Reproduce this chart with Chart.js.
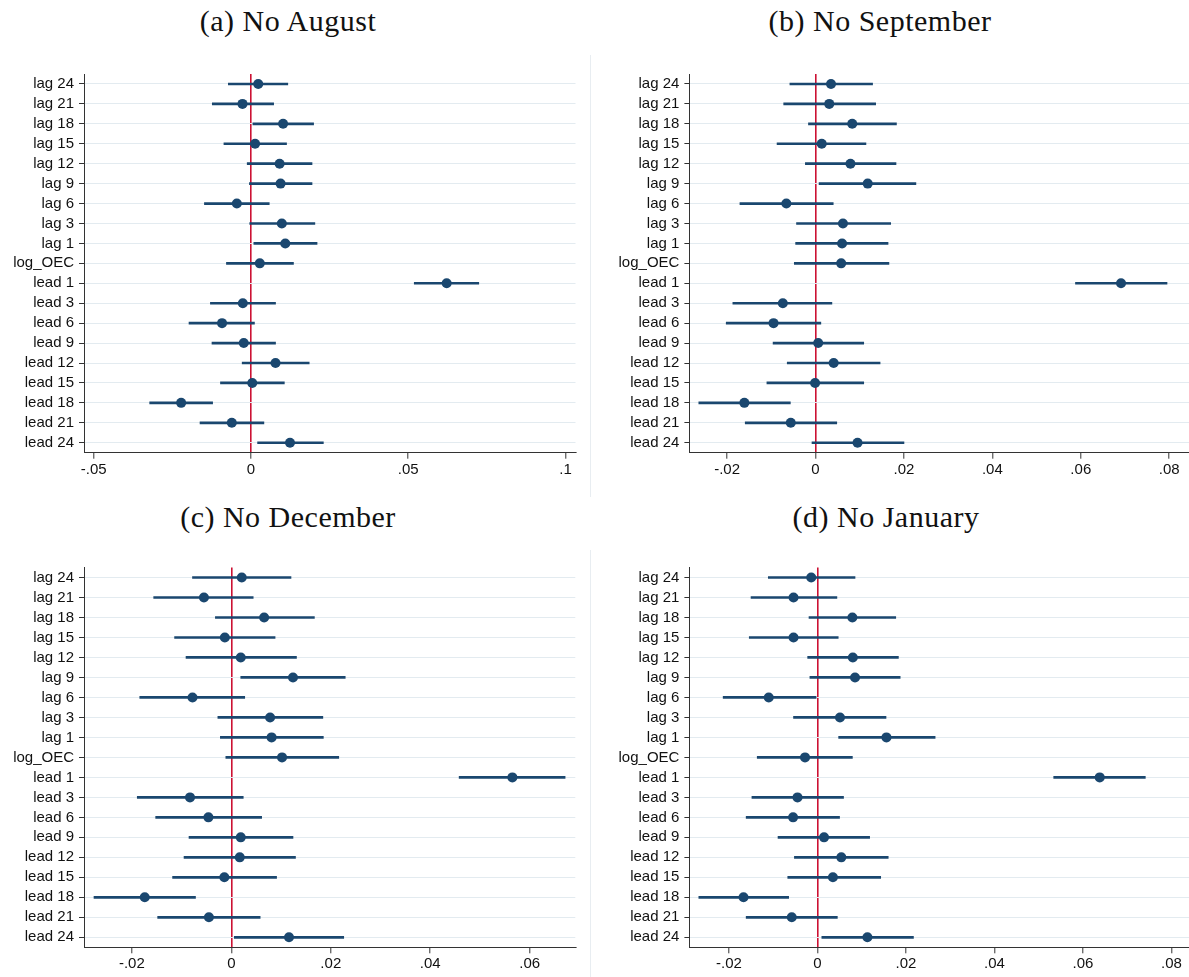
<!DOCTYPE html>
<html lang="en">
<head>
<meta charset="UTF-8" />
<title>Coefficient plots, one month dropped</title>
<script src="https://cdn.jsdelivr.net/npm/chart.js@4.4.1/dist/chart.umd.min.js"></script>
<style>
  html, body { margin: 0; padding: 0; background: #fff; overflow: hidden; }
  body { width: 1189px; height: 977px; position: relative; }
  .title {
    position: absolute; transform: translateX(-50%); white-space: nowrap;
    font-family: "Liberation Serif", serif; font-size: 30px; letter-spacing: 0.5px;
    line-height: 1; color: #111;
  }
  canvas { position: absolute; }
  .edge { position: absolute; left: 590px; width: 1px; background: #e8edf1; }
</style>
</head>
<body>
<div class="title" style="left:288px;top:6px">(a) No August</div>
<div class="title" style="left:880px;top:6px">(b) No September</div>
<div class="title" style="left:288px;top:502px">(c) No December</div>
<div class="title" style="left:886px;top:502px">(d) No January</div>
<div class="edge" style="top:55px;height:442px"></div>
<div class="edge" style="top:550px;height:427px"></div>

<canvas id="aug" width="590" height="440" style="left:0;top:60px"></canvas>
<canvas id="sep" width="620" height="440" style="left:590px;top:60px"></canvas>
<canvas id="dec" width="590" height="440" style="left:0;top:550px"></canvas>
<canvas id="jan" width="620" height="440" style="left:590px;top:550px"></canvas>

<script>
// rows, top to bottom
const rows = ["lag 24", "lag 21", "lag 18", "lag 15", "lag 12", "lag 9", "lag 6", "lag 3", "lag 1",
  "log_OEC", "lead 1", "lead 3", "lead 6", "lead 9", "lead 12", "lead 15", "lead 18", "lead 21", "lead 24"];

// (a) No August
const augEst = [0.0023, -0.0027, 0.0102, 0.0013, 0.0091, 0.0094, -0.0045, 0.0098, 0.0109,
  0.0028, 0.0622, -0.0026, -0.0092, -0.0023, 0.0078, 0.0004, -0.0222, -0.0061, 0.0124];
const augLo = [-0.0072, -0.0123, 0.0006, -0.0086, -0.0012, -0.0005, -0.0148, -0.0004, 0.0009,
  -0.0078, 0.0519, -0.0129, -0.0197, -0.0124, -0.0028, -0.0097, -0.0322, -0.0162, 0.0021];
const augHi = [0.0117, 0.0072, 0.0199, 0.0113, 0.0194, 0.0194, 0.0058, 0.0203, 0.0210,
  0.0135, 0.0724, 0.0078, 0.0011, 0.0078, 0.0185, 0.0106, -0.0122, 0.0041, 0.0230];

// (b) No September
const sepEst = [0.0035, 0.0031, 0.0083, 0.0014, 0.0079, 0.0118, -0.0066, 0.0062, 0.0060,
  0.0058, 0.0691, -0.0074, -0.0095, 0.0006, 0.0041, -0.0001, -0.0161, -0.0056, 0.0095];
const sepLo = [-0.0058, -0.0072, -0.0016, -0.0087, -0.0023, 0.0008, -0.0171, -0.0043, -0.0045,
  -0.0048, 0.0588, -0.0187, -0.0202, -0.0096, -0.0064, -0.0110, -0.0264, -0.0159, -0.0008];
const sepHi = [0.0129, 0.0136, 0.0183, 0.0114, 0.0182, 0.0227, 0.0040, 0.0170, 0.0164,
  0.0166, 0.0795, 0.0037, 0.0012, 0.0109, 0.0146, 0.0109, -0.0057, 0.0048, 0.0200];

// (c) No December
const decEst = [0.0021, -0.0055, 0.0066, -0.0013, 0.0019, 0.0124, -0.0078, 0.0078, 0.0081,
  0.0102, 0.0565, -0.0083, -0.0046, 0.0019, 0.0017, -0.0014, -0.0174, -0.0045, 0.0116];
const decLo = [-0.0078, -0.0156, -0.0032, -0.0114, -0.0091, 0.0019, -0.0184, -0.0027, -0.0022,
  -0.0011, 0.0458, -0.0189, -0.0152, -0.0085, -0.0095, -0.0118, -0.0276, -0.0148, 0.0006];
const decHi = [0.0120, 0.0044, 0.0167, 0.0088, 0.0131, 0.0229, 0.0027, 0.0184, 0.0185,
  0.0216, 0.0671, 0.0024, 0.0061, 0.0124, 0.0129, 0.0091, -0.0072, 0.0058, 0.0226];

// (d) No January
const janEst = [-0.0014, -0.0054, 0.0079, -0.0054, 0.0080, 0.0085, -0.0110, 0.0051, 0.0156,
  -0.0028, 0.0638, -0.0045, -0.0055, 0.0015, 0.0054, 0.0035, -0.0167, -0.0058, 0.0113];
const janLo = [-0.0111, -0.0150, -0.0019, -0.0154, -0.0022, -0.0017, -0.0213, -0.0054, 0.0048,
  -0.0136, 0.0534, -0.0148, -0.0161, -0.0089, -0.0052, -0.0067, -0.0268, -0.0161, 0.0010];
const janHi = [0.0085, 0.0044, 0.0177, 0.0047, 0.0183, 0.0187, -0.0003, 0.0155, 0.0266,
  0.0079, 0.0741, 0.0059, 0.0050, 0.0118, 0.0160, 0.0143, -0.0065, 0.0045, 0.0217];

// x axis ticks
const augTicks = [-0.05, 0, 0.05, 0.1];
const sepTicks = [-0.02, 0, 0.02, 0.04, 0.06, 0.08];
const decTicks = [-0.02, 0, 0.02, 0.04, 0.06];
const janTicks = [-0.02, 0, 0.02, 0.04, 0.06, 0.08];

const navy = "#1a476f";
const zeroLine = "#cc1133";
const axisCol = "#333333";
const gridCol = "#e3ebf0";
const labelFont = { family: "'Liberation Sans', Arial, sans-serif", size: 15 };

// stata style labels: -.05, 0, .1
function fmt(v) {
  if (v === 0) return "0";
  const s = String(+Math.abs(v).toFixed(4)).replace(/^0/, "");
  return (v < 0 ? "-" : "") + s;
}

function coefPlot(id, est, lo, hi, ticks, xMin, xMax, pad, yWidth) {
  new Chart(document.getElementById(id), {
    type: "bar",
    data: {
      labels: rows,
      datasets: [
        {
          type: "line", data: est, showLine: false, order: 0,
          pointRadius: 5, pointHoverRadius: 5, pointBorderWidth: 0,
          pointBackgroundColor: navy, pointBorderColor: navy
        },
        {
          type: "bar", data: lo.map((v, i) => [v, hi[i]]), order: 1,
          backgroundColor: navy, barThickness: 2, borderWidth: 0
        }
      ]
    },
    options: {
      indexAxis: "y",
      responsive: false,
      animation: false,
      layout: { padding: pad },
      plugins: { legend: { display: false }, tooltip: { enabled: false } },
      scales: {
        x: {
          type: "linear", min: xMin, max: xMax,
          afterBuildTicks: s => { s.ticks = ticks.map(v => ({ value: v })); },
          afterFit: s => { s.height = 30; },
          ticks: { callback: fmt, font: labelFont, color: "#111", padding: 2, maxRotation: 0, autoSkip: false },
          grid: {
            color: c => (c.tick && c.tick.value === 0 ? zeroLine : "rgba(0,0,0,0)"),
            lineWidth: 1.6, tickColor: axisCol, tickLength: 6, tickWidth: 1
          },
          border: { color: axisCol, width: 1 }
        },
        y: {
          type: "category", offset: true,
          afterFit: s => { s.width = yWidth; },
          ticks: { font: labelFont, color: "#111", padding: 5, autoSkip: false },
          grid: { color: gridCol, lineWidth: 1, offset: false, tickColor: axisCol, tickLength: 5, tickWidth: 1 },
          border: { color: axisCol, width: 1 }
        }
      }
    }
  });
}

coefPlot("aug", augEst, augLo, augHi, augTicks, -0.05308, 0.10315,
  { left: 0, right: 14.5, top: 12, bottom: 17.3 }, 84);
coefPlot("sep", sepEst, sepLo, sepHi, sepTicks, -0.02853, 0.0847,
  { left: 0, right: 20, top: 12, bottom: 17.3 }, 99.4);
coefPlot("dec", decEst, decLo, decHi, decTicks, -0.02961, 0.06915,
  { left: 0, right: 14.7, top: 17.5, bottom: 12.7 }, 84);
coefPlot("jan", janEst, janLo, janHi, janTicks, -0.02893, 0.0842,
  { left: 0, right: 20, top: 17.5, bottom: 12.7 }, 99.4);
</script>
</body>
</html>
